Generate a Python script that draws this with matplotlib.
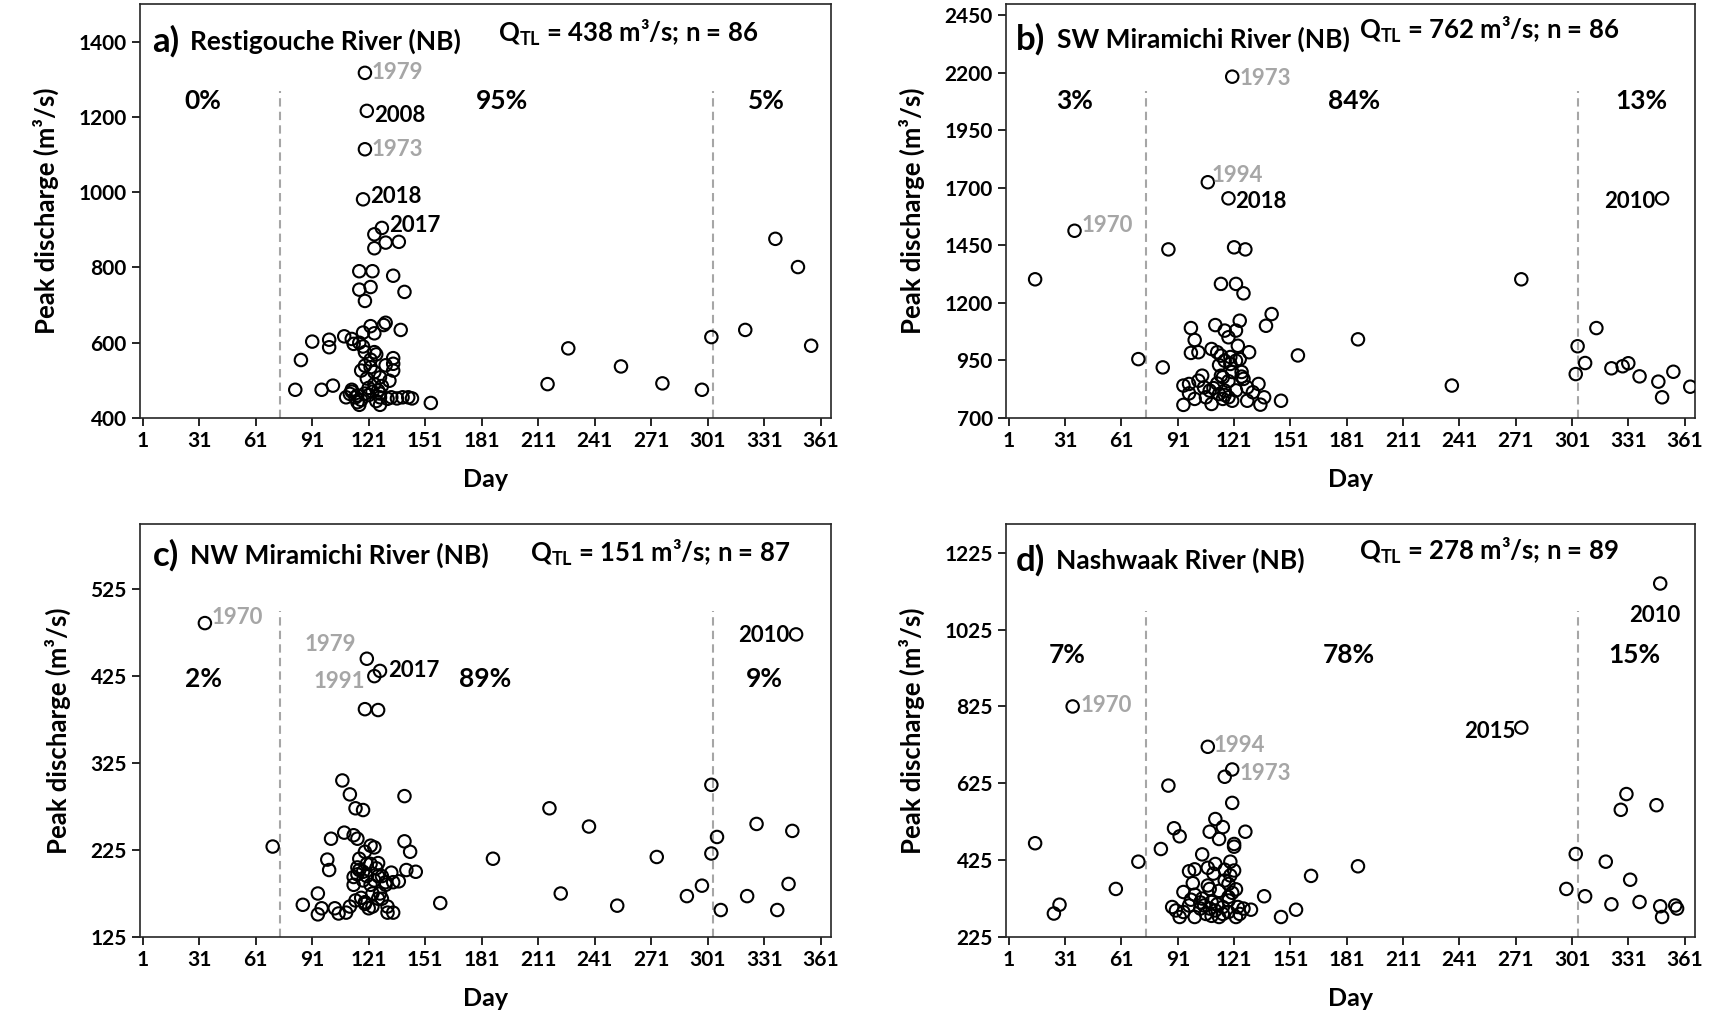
import matplotlib
matplotlib.use('Agg')
import matplotlib.pyplot as plt

plt.rcParams['font.family'] = ['Lato', 'DejaVu Sans']
plt.rcParams['font.weight'] = 'bold'
plt.rcParams['mathtext.fontset'] = 'custom'
plt.rcParams['mathtext.rm'] = 'Lato:bold'
plt.rcParams['mathtext.bf'] = 'Lato:bold'
plt.rcParams['mathtext.it'] = 'Lato:bold'

GRAY = '#A6A6A6'

# a) Restigouche River
a_day = [119, 120, 119, 118, 128, 124, 130, 137, 124, 116, 123, 134, 116, 122, 140, 119,
         216, 227, 255, 277, 298, 303, 321, 337, 349, 356,
         91, 85, 82, 96, 102, 100, 100, 108, 112, 113, 118, 124, 122, 129, 130, 138, 118,
         119, 124, 125, 134, 134, 119, 117, 122, 124, 134, 127, 132, 124,
         109, 111, 112, 114, 115, 116, 121, 126, 127, 127, 131, 133, 136, 139, 142, 144, 154,
         112, 115, 117, 119, 121, 123, 125, 127, 120, 128, 122, 116, 130]
a_q = [1317, 1216, 1114, 981, 905, 888, 866, 868, 851, 790, 790, 778, 741, 748, 735, 711,
       490, 585, 537, 492, 475, 615, 634, 876, 801, 592,
       603, 554, 475, 475, 486, 608, 588, 617, 610, 597, 627, 625, 644, 647, 653, 634, 590,
       575, 575, 569, 559, 544, 539, 526, 535, 522, 526, 508, 499, 490,
       455, 464, 475, 455, 442, 435, 461, 473, 455, 435, 451, 455, 452, 455, 455, 452, 440,
       470, 460, 448, 465, 480, 470, 445, 465, 505, 485, 555, 600, 540]

# b) SW Miramichi River
b_day = [120, 107, 118, 349, 36, 15, 86, 121, 127, 114, 122, 126, 274, 141, 138,
         98, 111, 116, 122, 124, 118, 100, 123, 187,
         98, 102, 109, 112, 114, 116, 119, 122, 124, 129, 70, 83, 155, 237,
         304, 303, 308, 314, 322, 328, 331, 337, 347, 349, 355, 364,
         94, 97, 97, 100, 102, 104, 105, 108, 109, 114, 115, 113, 115, 116, 118, 120,
         125, 126, 128, 128, 131, 134, 137, 135, 146, 94,
         110, 112, 118, 120, 122, 116, 106, 125, 113, 119]
b_q = [2184, 1725, 1655, 1655, 1514, 1303, 1433, 1442, 1433, 1283, 1283, 1242, 1303, 1152, 1101,
       1091, 1104, 1080, 1080, 1123, 1051, 1039, 1014, 1042,
       983, 986, 1000, 986, 971, 949, 935, 949, 956, 986, 956, 920, 972, 841,
       1012, 891, 939, 1091, 916, 925, 938, 881, 858, 790, 901, 836,
       841, 848, 807, 783, 862, 884, 833, 819, 761, 884, 877, 804, 783, 819, 790, 775,
       880, 870, 833, 775, 812, 848, 790, 758, 775, 757,
       830, 850, 860, 900, 820, 800, 790, 900, 930, 965]

# c) NW Miramichi River
c_day = [34, 348, 120, 127, 124, 119, 126, 107, 111, 114, 118, 140, 217, 238,
         303, 306, 303, 327, 346, 344, 322, 338, 308, 298, 290, 274, 253, 223, 187, 159, 70,
         108, 101, 113, 115, 122, 124, 119, 140, 143, 99, 100, 120, 122, 125, 116, 115, 113,
         118, 126, 130, 133, 134, 137, 141, 146,
         94, 86, 96, 94, 103, 105, 109, 114, 119, 123, 123, 126, 128, 131, 131, 134,
         115, 118, 120, 122, 124, 117, 119, 121, 113, 126, 128, 130, 116, 111, 127]
c_q = [486, 473, 445, 431, 425, 387, 386, 305, 289, 273, 271, 287, 273, 252,
       300, 240, 221, 255, 247, 186, 172, 156, 156, 184, 172, 217, 161, 175, 215, 164, 229,
       245, 238, 242, 238, 230, 228, 223, 235, 223, 214, 202, 209, 209, 204, 202, 197, 194,
       190, 195, 188, 199, 188, 189, 202, 200,
       175, 162, 158, 151, 158, 152, 153, 167, 163, 175, 160, 169, 169, 160, 153, 153,
       205, 200, 195, 185, 190, 170, 165, 158, 185, 210, 195, 185, 215, 160, 175]

# d) Nashwaak River
d_day = [348, 35, 274, 107, 120, 116, 86, 120, 330, 327, 346,
         111, 108, 115, 113, 127, 121, 89, 92, 15, 82, 70, 58, 28, 25,
         187, 162, 137, 154, 146,
         303, 319, 332, 298, 308, 322, 337, 348, 349, 356, 357,
         104, 97, 100, 107, 110, 119, 121, 99, 107, 116, 118, 122, 94, 98, 104, 109, 118,
         88, 90, 92, 94, 97, 100, 103, 105, 108, 111, 113, 115, 118, 122, 123, 126, 130,
         100, 103, 106, 109, 112, 115, 118, 120, 124, 113, 108, 116, 119, 111, 121]
d_q = [1145, 825, 770, 720, 661, 642, 619, 574, 597, 556, 568,
       532, 499, 511, 480, 499, 467, 508, 487, 469, 454, 421, 350, 309, 286,
       409, 384, 331, 296, 277,
       441, 421, 374, 350, 331, 310, 316, 305, 277, 307, 299,
       440, 396, 401, 405, 390, 421, 398, 365, 359, 372, 363, 349, 342, 322, 325, 316, 329,
       303, 294, 277, 290, 307, 277, 299, 307, 299, 294, 277, 303, 290, 277, 303, 299, 296,
       335, 315, 285, 280, 310, 285, 320, 340, 285, 345, 350, 400, 385, 415, 460]

# labelled years: year, day, discharge, colour, offset (points), alignment
a_lab = [('1979', 119, 1317, GRAY, (5, 0), 'left'), ('2008', 120, 1216, 'black', (5, -3), 'left'),
         ('1973', 119, 1114, GRAY, (5, 0), 'left'), ('2018', 118, 981, 'black', (5, 2), 'left'),
         ('2017', 128, 905, 'black', (5, 2), 'left')]
b_lab = [('1973', 120, 2184, GRAY, (5, -1), 'left'), ('1994', 107, 1725, GRAY, (3, 5), 'left'),
         ('2018', 118, 1655, 'black', (5, -2), 'left'), ('2010', 349, 1655, 'black', (-5, -2), 'right'),
         ('1970', 36, 1514, GRAY, (5, 4), 'left')]
c_lab = [('1970', 34, 486, GRAY, (5, 4), 'left'), ('2010', 348, 473, 'black', (-5, -1), 'right'),
         ('1979', 120, 445, GRAY, (-8, 10), 'right'), ('1991', 124, 425, GRAY, (-7, -4), 'right'),
         ('2017', 127, 431, 'black', (6, 0), 'left')]
d_lab = [('2010', 348, 1145, 'black', (-4, -23), 'center'), ('1970', 35, 825, GRAY, (6, 1), 'left'),
         ('2015', 274, 770, 'black', (-4, -3), 'right'), ('1994', 107, 720, GRAY, (4, 1), 'left'),
         ('1973', 120, 661, GRAY, (5, -3), 'left')]

panels = [
    ('a)', 'Restigouche River (NB)', 438, 86, a_day, a_q, a_lab, (400, 1500), range(400, 1401, 200),
     ['0%', '95%', '5%'], [33, 192, 332], 0.766, (0.018, 0.072, 0.909), (0.518, 0.93)),
    ('b)', 'SW Miramichi River (NB)', 762, 86, b_day, b_q, b_lab, (700, 2500), range(700, 2451, 250),
     ['3%', '84%', '13%'], [36, 185, 338], 0.766, (0.014, 0.074, 0.914), (0.512, 0.938)),
    ('c)', 'NW Miramichi River (NB)', 151, 87, c_day, c_q, c_lab, (125, 600), range(125, 526, 100),
     ['2%', '89%', '9%'], [33, 183, 331], 0.624, (0.018, 0.072, 0.925), (0.565, 0.93)),
    ('d)', 'Nashwaak River (NB)', 278, 89, d_day, d_q, d_lab, (225, 1300), range(225, 1226, 200),
     ['7%', '78%', '15%'], [32, 182, 334], 0.683, (0.014, 0.072, 0.912), (0.512, 0.935)),
]

fig = plt.figure(figsize=(17.15, 10.21), dpi=100)
rects = [[0.0816, 0.5906, 0.4029, 0.4055], [0.5866, 0.5906, 0.4017, 0.4055],
         [0.0816, 0.0823, 0.4029, 0.4045], [0.5866, 0.0823, 0.4017, 0.4045]]

for rect, (tag, name, qtl, n, days, q, labs, ylim, yticks, pcts, pct_x, pct_y, tpos, qpos) in zip(rects, panels):
    ax = fig.add_axes(rect)
    ax.scatter(days, q, s=80, facecolors='none', edgecolors='black', linewidths=1.5, zorder=3)
    ax.set_xlim(-0.5, 366.5)
    ax.set_ylim(*ylim)
    ax.set_xticks(range(1, 362, 30))
    ax.set_yticks(list(yticks))
    ax.tick_params(direction='out', length=6, width=1.2, labelsize=15, colors='black')
    for s in ax.spines.values():
        s.set_linewidth(1.2)
        s.set_color('#262626')
    for x in [74, 304]:
        ax.axvline(x, ymax=0.79, color=GRAY, ls='--', lw=1.5, dashes=(4, 2.5), zorder=1)
    for p, px in zip(pcts, pct_x):
        ax.text(px, pct_y, p, transform=ax.get_xaxis_transform(), ha='center', va='center',
                fontsize=19, fontweight='bold')
    for yr, dx, qv, col, off, ha in labs:
        ax.annotate(yr, (dx, qv), xytext=off, textcoords='offset points', ha=ha, va='center',
                    fontsize=16, fontweight='bold', color=col)
    ax.text(tpos[0], tpos[2], tag, transform=ax.transAxes, fontsize=25, fontweight='bold', va='center')
    ax.text(tpos[1], tpos[2], name, transform=ax.transAxes, fontsize=19, fontweight='bold', va='center')
    ax.text(qpos[0], qpos[1], r'Q$_{\mathrm{TL}}$' + ' = %d m³/s; n = %d' % (qtl, n),
            transform=ax.transAxes, fontsize=18.5, fontweight='bold', va='center')
    ax.set_xlabel('Day', fontsize=18, fontweight='bold', labelpad=12)
    ax.set_ylabel('Peak discharge (m³/s)', fontsize=18.5, fontweight='bold', labelpad=14)

fig.savefig('out.png', dpi=100)
